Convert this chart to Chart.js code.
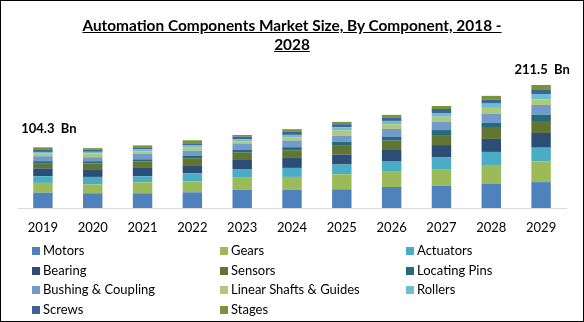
<!DOCTYPE html>
<html><head><meta charset="utf-8">
<script src="https://cdn.jsdelivr.net/npm/chart.js@4/dist/chart.umd.min.js"></script>
<style>
html,body{margin:0;padding:0;background:#fff;}
#wrap{position:relative;width:584px;height:322px;overflow:hidden;font-family:Lato,"Open Sans",sans-serif;background:#fff;}
#frame{position:absolute;left:0;top:0;width:584px;height:322px;box-sizing:border-box;border:1px solid #000;pointer-events:none;}
#title{position:absolute;left:0;top:16px;width:584px;text-align:center;font-weight:bold;font-size:15.4px;line-height:19px;color:#000;}
#title span{text-decoration:underline;}
canvas{position:absolute;left:0;top:0;}
.li{position:absolute;font-size:13px;line-height:16px;color:#000;white-space:nowrap;}
.sw{display:inline-block;width:8px;height:8px;margin-right:3px;vertical-align:0px;}
</style>
</head><body>
<div id="wrap">
<canvas id="c" width="584" height="322"></canvas>
<div id="title"><span>Automation Components Market Size, By Component, 2018 -</span><br><span>2028</span></div>
<div id="legend"></div>
<div id="frame"></div>
</div>
<script>
const years = ["2019","2020","2021","2022","2023","2024","2025","2026","2027","2028","2029"];
const seriesNames = ["Motors","Gears","Actuators","Bearing","Sensors","Locating Pins","Bushing & Coupling","Linear Shafts & Guides","Rollers","Screws","Stages"];
const motors    = [26.3,25.3,25.3,27.0,31.4,31.0,32.2,36.1,37.8,41.3,44.5];
const gears     = [16.9,15.5,18.9,18.9,21.8,22.4,25.8,26.3,29.2,32.7,35.6];
const actuators = [11.3,12.6,10.3,13.8,13.8,15.5,16.7,18.4,20.6,22.4,23.6];
const bearing   = [13.6,13.2,15.5,13.8,15.5,17.2,17.2,18.9,20.6,22.4,25.3];
const sensors   = [9.0,9.8,10.3,12.0,12.6,13.2,15.0,16.0,17.2,18.9,20.6];
const locPins   = [3.4,4.0,3.4,4.0,4.6,5.2,6.9,6.4,8.6,8.6,10.8];
const bushing   = [8.5,6.9,9.1,9.1,10.3,11.5,10.3,13.8,13.8,15.5,16.7];
const linear    = [4.5,6.4,4.6,5.2,4.6,5.7,9.1,8.1,9.1,10.3,9.8];
const rollers   = [2.9,2.9,3.4,4.0,3.4,4.0,5.7,5.7,6.4,7.4,9.1];
const screws    = [3.4,3.4,3.4,3.4,4.6,5.2,5.2,5.2,6.9,6.4,8.1];
const stages    = [4.5,2.9,3.4,5.2,2.9,4.6,4.0,5.2,5.2,6.9,7.4];
const totalLabels = [{index:0,text:"104.3  Bn"},{index:10,text:"211.5  Bn"}];
const seriesData = [motors,gears,actuators,bearing,sensors,locPins,bushing,linear,rollers,screws,stages];
const colors = ["#4f81bd","#9bbb59","#4bacc6","#2c4d75","#5f7530","#276a7c","#729aca","#afc97a","#6fbdd1","#3c6494","#77933c"];

const datasets = seriesNames.map((n,i)=>({label:n,data:seriesData[i],backgroundColor:colors[i],borderWidth:0,categoryPercentage:1,barPercentage:0.39}));

const totalsPlugin = {
  id:'totals',
  afterDatasetsDraw(chart){
    const ctx = chart.ctx, x = chart.scales.x, y = chart.scales.y;
    ctx.save();
    ctx.font = "bold 13px Lato";
    ctx.fillStyle = "#000";
    ctx.textAlign = "center";
    ctx.textBaseline = "middle";
    totalLabels.forEach(t=>{
      let sum = 0; seriesData.forEach(s=>sum+=s[t.index]);
      const px = x.getPixelForValue(t.index) + (t.index===0?6:1);
      const py = y.getPixelForValue(sum) - (t.index===0?19:15);
      ctx.fillText(t.text, px, py);
    });
    ctx.restore();
  }
};

new Chart(document.getElementById('c'),{
  type:'bar',
  data:{labels:years,datasets},
  options:{
    responsive:false,animation:false,
    layout:{padding:{left:18,right:18,top:68,bottom:82}},
    plugins:{legend:{display:false},tooltip:{enabled:false},title:{display:false}},
    scales:{
      x:{stacked:true,grid:{display:false,drawTicks:false},border:{display:true,color:"#d9d9d9",width:1},
         ticks:{color:"#000",font:{family:"Lato",size:13},padding:12,maxRotation:0,autoSkip:false},
         afterFit(s){s.height=32;}},
      y:{stacked:true,display:false,min:0,max:240.7}
    }
  },
  plugins:[totalsPlugin]
});

const leg = document.getElementById('legend');
const colX = [32,220,406];
seriesNames.forEach((n,i)=>{
  const d = document.createElement('div');
  d.className='li';
  d.style.left = colX[i%3]+'px';
  d.style.top = (242 + Math.floor(i/3)*19.5)+'px';
  d.innerHTML = '<span class="sw" style="background:'+colors[i]+'"></span>'+n.replace('&','&amp;');
  leg.appendChild(d);
});
</script>
</body></html>
